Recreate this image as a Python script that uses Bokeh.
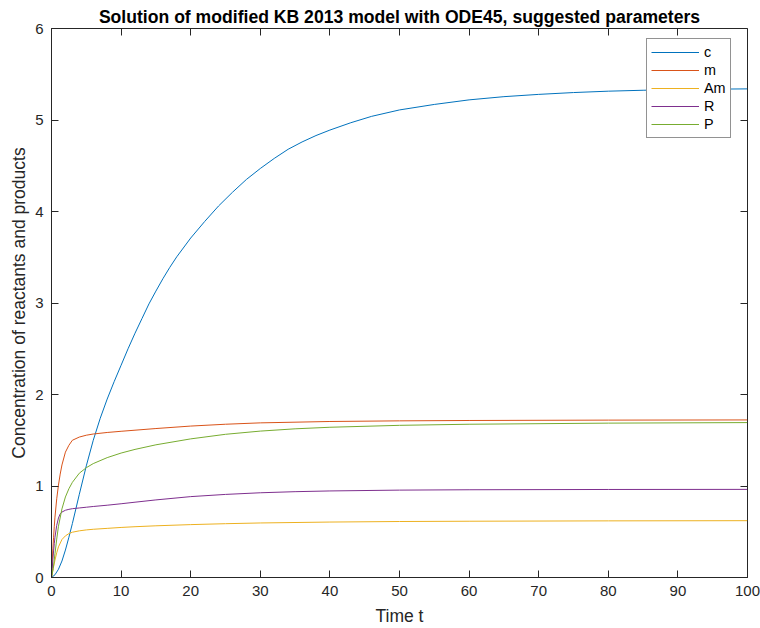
from bokeh.plotting import figure
from bokeh.models import (Range1d, FixedTicker, LinearAxis, Legend, LegendItem)
from bokeh.embed import file_html
from bokeh.resources import INLINE

# ---- data ----
t_c = [0, 0.5, 1, 1.5, 2, 2.5, 3, 3.5, 4, 5, 6, 7, 8, 9, 10, 11, 12, 13, 14,
       15, 16, 17, 18, 20, 22, 24, 26, 28, 30, 32, 34, 36, 38, 40, 43, 46, 50,
       55, 60, 65, 70, 75, 80, 85, 90, 95, 100]
c = [0, 0.03, 0.09, 0.18, 0.30, 0.44, 0.59, 0.75, 0.91, 1.22, 1.50, 1.74,
     1.95, 2.14, 2.32, 2.50, 2.67, 2.83, 2.99, 3.13, 3.265, 3.39, 3.505, 3.71,
     3.89, 4.06, 4.21, 4.35, 4.47, 4.58, 4.68, 4.76, 4.83, 4.89, 4.97, 5.04,
     5.11, 5.17, 5.22, 5.255, 5.28, 5.30, 5.315, 5.325, 5.332, 5.337, 5.34]

t_m = [0, 0.1, 0.2, 0.3, 0.4, 0.5, 0.75, 1, 1.25, 1.5, 2, 2.5, 3, 4, 5, 6, 8,
       10, 15, 20, 25, 30, 40, 50, 60, 80, 100]
m = [0, 0.17, 0.32, 0.44, 0.56, 0.66, 0.86, 1.01, 1.13, 1.23, 1.37, 1.445,
     1.50, 1.535, 1.555, 1.568, 1.585, 1.598, 1.628, 1.655, 1.675, 1.69, 1.705,
     1.712, 1.716, 1.72, 1.722]

t_Am = [0, 0.25, 0.5, 0.75, 1, 1.5, 2, 2.5, 3, 4, 5, 6, 8, 10, 12, 15, 20, 25,
        30, 40, 50, 60, 80, 100]
Am = [0, 0.10, 0.19, 0.27, 0.335, 0.415, 0.455, 0.48, 0.495, 0.51, 0.52,
      0.527, 0.537, 0.547, 0.555, 0.565, 0.578, 0.588, 0.596, 0.606, 0.612,
      0.615, 0.619, 0.621]

t_R = [0, 0.1, 0.2, 0.3, 0.4, 0.5, 0.75, 1, 1.25, 1.5, 2, 2.5, 3, 4, 5, 6, 8,
       10, 12, 15, 20, 25, 30, 35, 40, 50, 60, 80, 100]
R = [0, 0.10, 0.20, 0.29, 0.37, 0.44, 0.57, 0.65, 0.695, 0.715, 0.735, 0.745,
     0.752, 0.76, 0.768, 0.776, 0.79, 0.806, 0.823, 0.848, 0.884, 0.908,
     0.926, 0.938, 0.946, 0.955, 0.959, 0.962, 0.963]

t_P = [0, 0.25, 0.5, 0.75, 1, 1.5, 2, 2.5, 3, 4, 5, 6, 8, 10, 12, 15, 20, 25,
       30, 35, 40, 50, 60, 80, 100]
P = [0, 0.10, 0.26, 0.42, 0.56, 0.75, 0.88, 0.97, 1.04, 1.14, 1.20, 1.245,
     1.31, 1.36, 1.40, 1.45, 1.515, 1.565, 1.60, 1.625, 1.642, 1.663, 1.675,
     1.687, 1.693]

series_names = ["c", "m", "Am", "R", "P"]
series_t = [t_c, t_m, t_Am, t_R, t_P]
series_values = [c, m, Am, R, P]
series_colors = ["#0072BD", "#D95319", "#EDB120", "#7E2F8E", "#77AC30"]

x_ticks = [0, 10, 20, 30, 40, 50, 60, 70, 80, 90, 100]
y_ticks = [0, 1, 2, 3, 4, 5, 6]

FONT = "Liberation Sans"
AX = "#262626"

p = figure(frame_width=696, frame_height=549,
           x_range=Range1d(0, 100), y_range=Range1d(0, 6),
           output_backend="svg", toolbar_location=None,
           min_border_left=51, min_border_right=13,
           min_border_top=28, min_border_bottom=51,
           background_fill_color="white", border_fill_color="white")

p.title.text = "Solution of modified KB 2013 model with ODE45, suggested parameters"
p.title.align = "center"
p.title.text_font = FONT
p.title.text_font_size = "17.6px"
p.title.text_font_style = "bold"
p.title.text_color = "black"
p.title.standoff = 3

p.grid.visible = False
p.outline_line_color = AX
p.outline_line_width = 1

for ax in (p.xaxis[0], p.yaxis[0]):
    ax.major_label_text_font = FONT
    ax.major_label_text_font_size = "15px"
    ax.major_label_text_color = AX
    ax.axis_label_text_font = FONT
    ax.axis_label_text_font_size = "17.5px"
    ax.axis_label_text_font_style = "normal"
    ax.axis_label_text_color = AX
    ax.axis_line_color = AX
    ax.major_tick_line_color = AX
    ax.major_tick_in = 7
    ax.major_tick_out = 0
    ax.minor_tick_line_color = None

p.xaxis[0].ticker = FixedTicker(ticks=x_ticks)
p.yaxis[0].ticker = FixedTicker(ticks=y_ticks)
p.xaxis[0].axis_label = "Time t"
p.yaxis[0].axis_label = "Concentration of reactants and products"
p.xaxis[0].major_label_standoff = 8
p.xaxis[0].axis_label_standoff = 7
p.yaxis[0].major_label_standoff = 8
p.yaxis[0].axis_label_standoff = 3

# mirrored ticks on top and right (MATLAB box style)
top_ax = LinearAxis(fixed_location=6, ticker=FixedTicker(ticks=x_ticks),
                    major_tick_in=7, major_tick_out=0,
                    major_label_text_color=None, axis_line_color=AX,
                    major_tick_line_color=AX, minor_tick_line_color=None)
right_ax = LinearAxis(fixed_location=100, ticker=FixedTicker(ticks=y_ticks),
                      major_tick_in=7, major_tick_out=0,
                      major_label_text_color=None, axis_line_color=AX,
                      major_tick_line_color=AX, minor_tick_line_color=None)
p.add_layout(top_ax, "above")
p.add_layout(right_ax, "right")

items = []
for name, ts, vals, col in zip(series_names, series_t, series_values, series_colors):
    r = p.line(ts, vals, line_color=col, line_width=1)
    items.append(LegendItem(label=name, renderers=[r]))

legend = Legend(items=items, location=(595, 439),
                label_text_font=FONT, label_text_font_size="14.4px",
                label_text_color="black",
                glyph_width=48, glyph_height=18, label_height=18,
                label_standoff=5, spacing=0, padding=4, margin=0,
                border_line_color=AX, border_line_width=1,
                background_fill_color="white", background_fill_alpha=1)
p.add_layout(legend, "center")

open("out.html", "w").write(file_html(p, INLINE))
